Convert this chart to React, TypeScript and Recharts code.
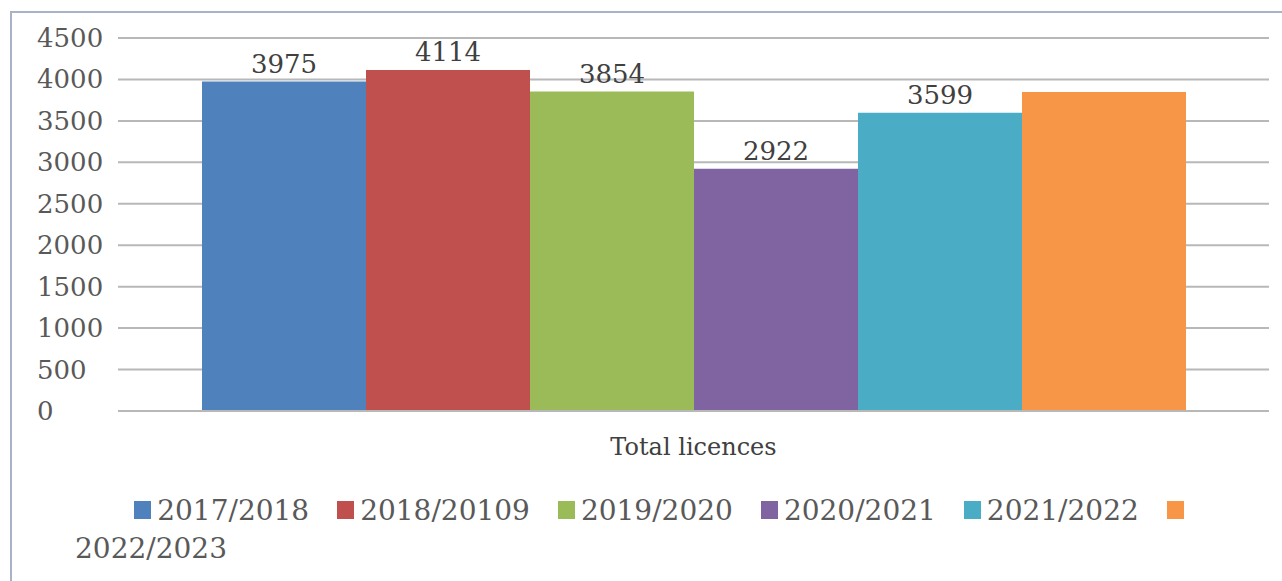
import { BarChart, Bar, XAxis, YAxis, CartesianGrid, Legend, LabelList } from "recharts";

const categories = ["Total licences"];
const seasons = ["2017/2018", "2018/20109", "2019/2020", "2020/2021", "2021/2022", "2022/2023"];
const totals = [3975, 4114, 3854, 2922, 3599, 3848];
const showLabel = [true, true, true, true, true, false];
const colors = ["#4f81bd", "#c0504d", "#9bbb59", "#8064a2", "#4bacc6", "#f79646"];
const yTicks = [0, 500, 1000, 1500, 2000, 2500, 3000, 3500, 4000, 4500];

const FONT = "'DejaVu Serif', 'Liberation Serif', serif";

const data = categories.map((name) => {
  const row: Record<string, string | number> = { name };
  seasons.forEach((s, i) => {
    row["s" + i] = totals[i];
  });
  return row;
});

function YTick(props: any) {
  const { y, payload } = props;
  return (
    <text x={37} y={y} dy={9} textAnchor="start" fontFamily={FONT} fontSize={26} fill="#595959">
      {payload.value}
    </text>
  );
}

function XTick(props: any) {
  const { x, y, payload } = props;
  return (
    <text x={x} y={y} dy={36} textAnchor="middle" fontFamily={FONT} fontSize={24} fill="#404040">
      {payload.value}
    </text>
  );
}

function LegendContent(props: any) {
  const items = props.payload || [];
  const last = items[items.length - 1];
  const swatch = (c: string) => (
    <span
      style={{ display: "inline-block", width: 17, height: 18, background: c, marginRight: 6, verticalAlign: "middle", position: "relative", top: -3 }}
    />
  );
  return (
    <div style={{ fontFamily: FONT, fontSize: 28, color: "#595959", lineHeight: "38px" }}>
      <div style={{ textAlign: "center", whiteSpace: "nowrap" }}>
        {items.map((it: any, i: number) => (
          <span key={it.value} style={{ marginRight: i < items.length - 1 ? 28 : 0 }}>
            {swatch(it.color)}
            {i < items.length - 1 ? it.value : null}
          </span>
        ))}
      </div>
      <div style={{ textAlign: "left" }}>{last ? last.value : null}</div>
    </div>
  );
}

export default function App() {
  return (
    <div style={{ position: "absolute", left: 0, top: 0, width: 1282, height: 581, background: "#fff", overflow: "hidden" }}>
      <div
        style={{ position: "absolute", left: 10, top: 11, width: 1300, height: 600, border: "2px solid #a9b3c6", boxSizing: "border-box" }}
      />
      <BarChart
        width={1282}
        height={581}
        data={data}
        margin={{ top: 38, right: 13, left: 10, bottom: 110 }}
        barGap={0}
        barCategoryGap={84}
      >
        <CartesianGrid vertical={false} stroke="#b8b8b8" strokeWidth={2} />
        <XAxis dataKey="name" height={60} tickLine={false} axisLine={{ stroke: "#b8b8b8", strokeWidth: 2 }} tick={<XTick />} />
        <YAxis
          width={108}
          domain={[0, 4500]}
          ticks={yTicks}
          axisLine={false}
          tickLine={false}
          tick={<YTick />}
        />
        <Legend
          verticalAlign="middle"
          content={<LegendContent />}
          wrapperStyle={{ left: 75, top: 492, width: 1174 }}
        />
        {seasons.map((s, i) => (
          <Bar key={s} dataKey={"s" + i} name={s} fill={colors[i]} isAnimationActive={false}>
            {showLabel[i] ? (
              <LabelList dataKey={"s" + i} position="top" offset={9} fontFamily={FONT} fontSize={26} fill="#404040" />
            ) : null}
          </Bar>
        ))}
      </BarChart>
    </div>
  );
}
